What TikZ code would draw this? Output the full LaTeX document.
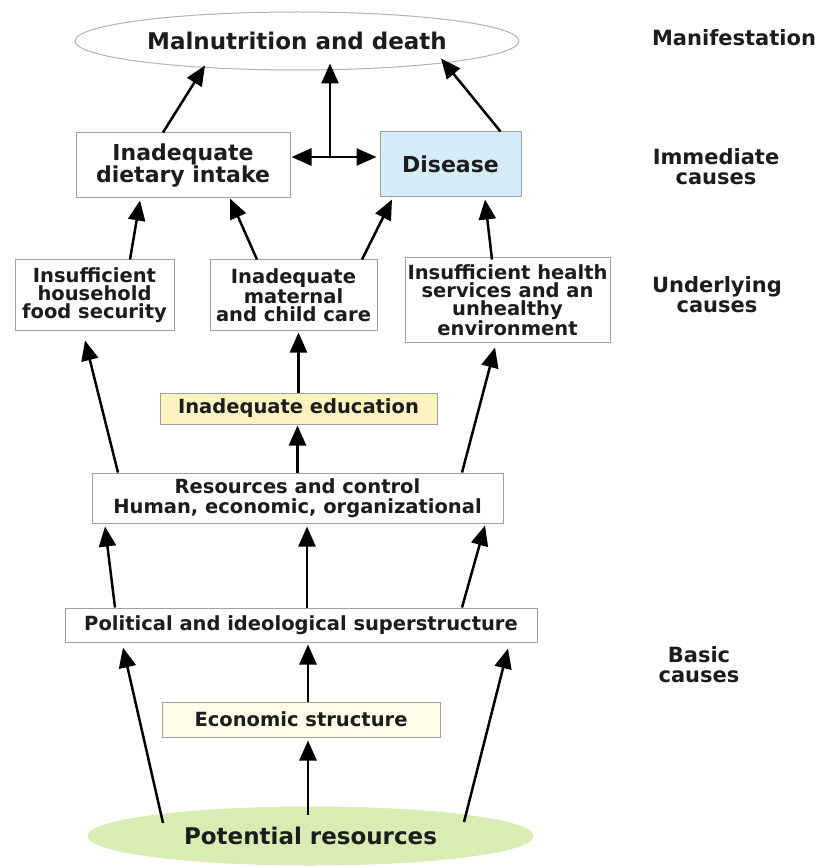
\documentclass[tikz,border=0pt]{standalone}
\usepackage{fontspec}
\setmainfont{DejaVu Sans}
\usetikzlibrary{arrows.meta,shapes.geometric}
\definecolor{boxline}{HTML}{A0A0A0}
\definecolor{inktext}{HTML}{1C1C1C}
\definecolor{diseasefill}{HTML}{D6ECFA}
\definecolor{edufill}{HTML}{FBF3C0}
\definecolor{econfill}{HTML}{FDFDE9}
\definecolor{potfill}{HTML}{D8ECB4}
\tikzset{
  causebox/.style={draw=boxline,line width=1pt,fill=white,inner sep=0pt,align=center,
    text=inktext,font=\bfseries\fontsize{19.5}{18}\selectfont},
  bigbox/.style={causebox,font=\bfseries\fontsize{22}{22}\selectfont},
  causeoval/.style={causebox,ellipse,font=\bfseries\fontsize{23}{23}\selectfont},
  levellabel/.style={align=center,text=inktext,font=\bfseries\fontsize{21}{20}\selectfont},
  causearrow/.style={-{Triangle[length=20pt,width=17pt]},line width=2.5pt,black},
  bothways/.style={{Triangle[length=20pt,width=17pt]}-{Triangle[length=20pt,width=17pt]},line width=2.5pt,black}
}

\begin{document}
\begin{tikzpicture}[x=1pt,y=-1pt]
\useasboundingbox (0,0) rectangle (822,866);
% manifestation and immediate causes
\node[causeoval,draw=black!30,minimum width=444pt,minimum height=58pt] (death) at (297,41) {Malnutrition and death};
\node[bigbox,minimum width=214pt,minimum height=65pt] (diet) at (183,165.5) {Inadequate\\dietary intake};
\node[bigbox,fill=diseasefill,minimum width=141pt,minimum height=65pt] (disease) at (450.5,164.5) {Disease};
% underlying causes
\node[causebox,minimum width=159pt,minimum height=70pt] (food) at (94.5,295) {Insufficient\\household\\food security};
\node[causebox,minimum width=167pt,minimum height=70pt] (care) at (293.5,295) {Inadequate\\maternal\\and child care};
\node[causebox,minimum width=205pt,minimum height=84pt] (health) at (507.5,300) {Insufficient health\\services and an\\unhealthy\\environment};
\node[causebox,fill=edufill,minimum width=277pt,minimum height=31pt] (edu) at (298.5,408.5) {Inadequate education};
\node[causebox,font=\bfseries\fontsize{19.5}{20}\selectfont,minimum width=411pt,minimum height=50pt] (res) at (297.5,498) {Resources and control\\Human, economic, organizational};
% basic causes
\node[causebox,minimum width=472pt,minimum height=34pt] (pol) at (301,625) {Political and ideological superstructure};
\node[causebox,fill=econfill,minimum width=278pt,minimum height=35pt] (econ) at (301,719.5) {Economic structure};
\node[causeoval,fill=potfill,draw=potfill,minimum width=445pt,minimum height=58pt] (pot) at (310.5,836) {Potential resources};
% level labels
\node[levellabel] (lmanif) at (734,38) {Manifestation};
\node[levellabel] (limm) at (716,167) {Immediate\\causes};
\node[levellabel] (lund) at (717,295) {Underlying\\causes};
\node[levellabel] (lbasic) at (699,665) {Basic\\causes};

\draw[causearrow] ([xshift=-20pt]diet.north) -- ([xshift=-92pt,yshift=5pt]death.south);
\draw[causearrow] ([xshift=50pt]disease.north) -- ([xshift=144pt,yshift=12pt]death.south);
\coordinate (mid) at (330,157);
\draw[bothways] ([xshift=1pt,yshift=8.5pt]diet.east) -- ([xshift=-3pt,yshift=7.5pt]disease.west);
\draw[causearrow] (mid) -- ([xshift=33pt,yshift=7pt]death.south);

\draw[causearrow] ([xshift=35.5pt]food.north) -- ([xshift=-43pt,yshift=-2pt]diet.south);
\draw[causearrow] ([xshift=-36.5pt]care.north) -- ([xshift=47pt]diet.south);
\draw[causearrow] ([xshift=68.5pt]care.north) -- ([xshift=-58.5pt,yshift=-2pt]disease.south);
\draw[causearrow] ([xshift=-15.5pt,yshift=-2pt]health.north) -- ([xshift=34.5pt,yshift=-2pt]disease.south);

\draw[causearrow] (edu.north) -- ([xshift=5pt,yshift=-2pt]care.south);
\draw[causearrow] (res.north) -- ([xshift=-1pt,yshift=-1pt]edu.south);
\draw[causearrow] ([xshift=-179.5pt]res.north) -- ([xshift=-9.5pt,yshift=-10pt]food.south);
\draw[causearrow] ([xshift=164.5pt]res.north) -- ([xshift=-12.5pt,yshift=-5pt]health.south);

\draw[causearrow] ([xshift=-186pt]pol.north) -- ([xshift=-192.5pt,yshift=-3pt]res.south);
\draw[causearrow] ([xshift=6pt]pol.north) -- ([xshift=9.5pt,yshift=-3pt]res.south);
\draw[causearrow] ([xshift=161pt]pol.north) -- ([xshift=187.5pt,yshift=-2pt]res.south);
\draw[causearrow] ([xshift=7pt]econ.north) -- ([xshift=7pt,yshift=-2pt]pol.south);

\draw[causearrow] ([xshift=-147.5pt,yshift=13pt]pot.center) -- ([xshift=-178pt,yshift=-5pt]pol.south);
\draw[causearrow] ([xshift=-2.5pt,yshift=-8pt]pot.north) -- ([xshift=7pt,yshift=-3pt]econ.south);
\draw[causearrow] ([xshift=153.5pt,yshift=14pt]pot.center) -- ([xshift=207pt,yshift=-6pt]pol.south);
\end{tikzpicture}
\end{document}
